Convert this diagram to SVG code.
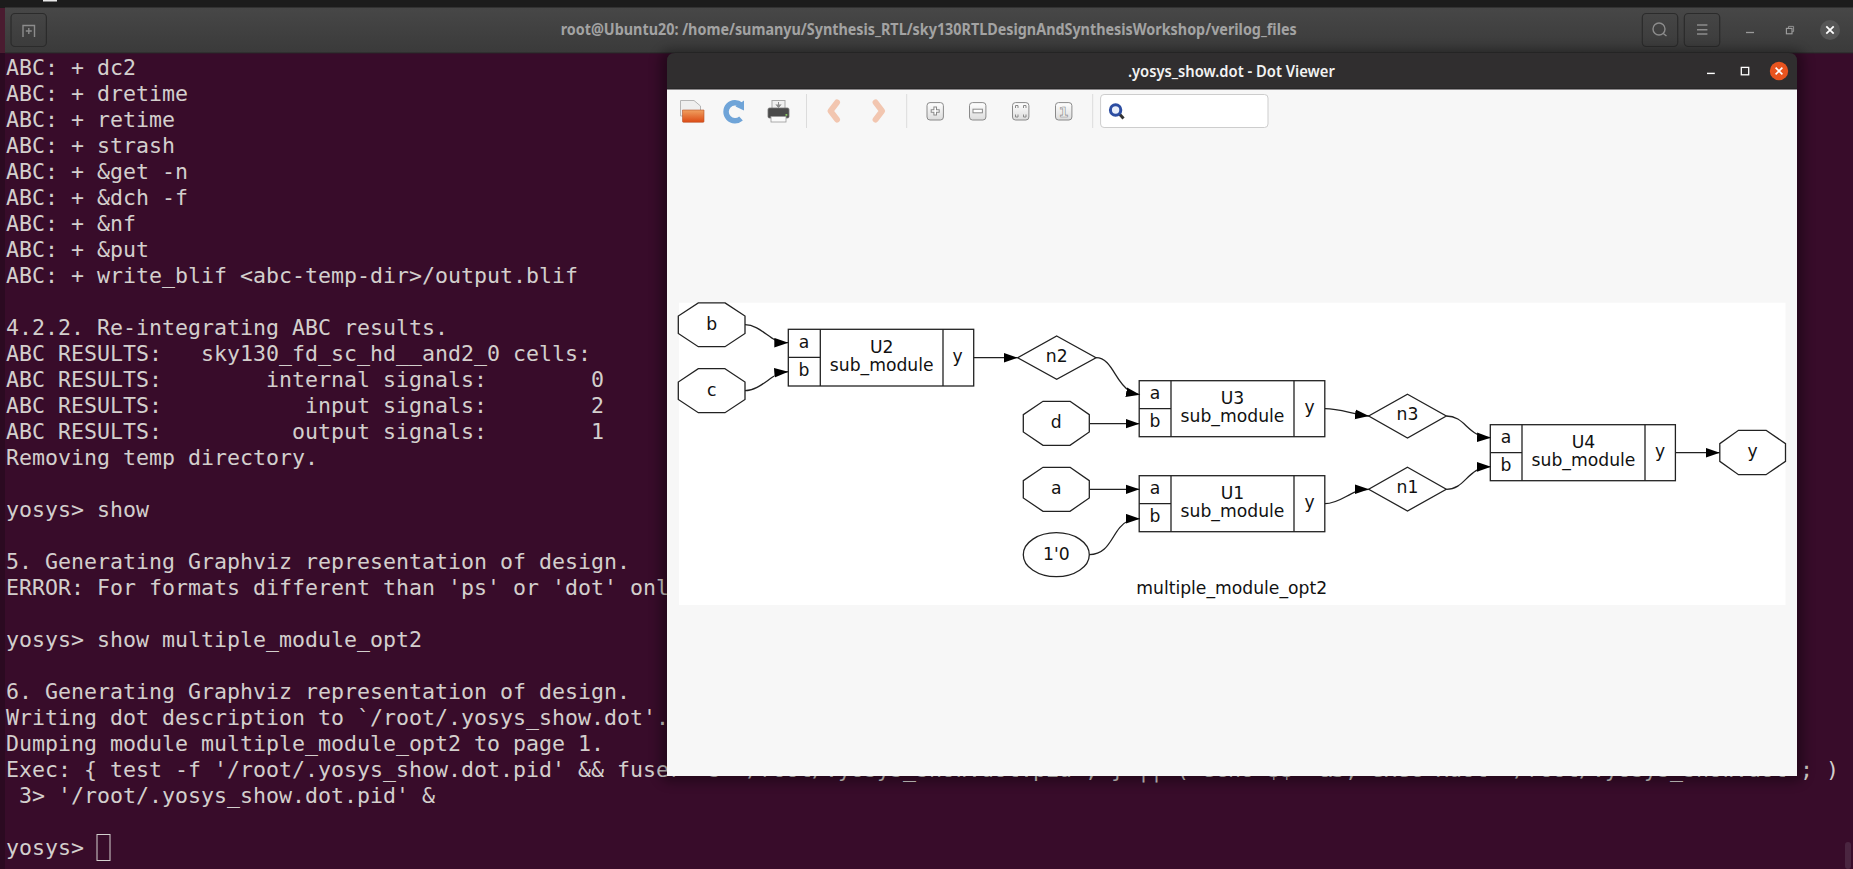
<svg xmlns="http://www.w3.org/2000/svg" width="1853" height="869" viewBox="0 0 1853 869">
<style>
.t{font-family:"DejaVu Sans Mono","Liberation Mono",monospace;font-size:21.6px;fill:#d3cfcd;white-space:pre}
.g{font-family:"DejaVu Sans","Liberation Sans",sans-serif;font-size:17.2px;fill:#111;text-anchor:middle}
.n{fill:none;stroke:#222;stroke-width:1.3}
.c{fill:none;stroke:#222;stroke-width:1.3}
.a{marker-end:url(#arrow)}
.tb{fill:none;stroke:#2b2b2b;stroke-width:1.2}
.btn{fill:url(#bg);stroke:#8a8a8a;stroke-width:1}
.sep{stroke:#dcdcdc;stroke-width:1}
.ic{fill:none;stroke:#8c8c8c;stroke-width:1.4}
</style>
<defs>
<marker id="arrow" markerUnits="userSpaceOnUse" markerWidth="15" markerHeight="11" refX="14" refY="5" orient="auto"><path d="M0,0.2L14,5L0,9.8Z" fill="#000"/></marker>
<linearGradient id="hd" x1="0" y1="0" x2="0" y2="1"><stop offset="0" stop-color="#474747"/><stop offset="1" stop-color="#3a3a3a"/></linearGradient>
<linearGradient id="bg" x1="0" y1="0" x2="0" y2="1"><stop offset="0" stop-color="#ffffff"/><stop offset="1" stop-color="#dcdcdc"/></linearGradient>
<linearGradient id="fold" x1="0" y1="0" x2="0" y2="1"><stop offset="0" stop-color="#f0a060"/><stop offset="1" stop-color="#dc4a14"/></linearGradient>
<filter id="sh" x="-5%" y="-5%" width="110%" height="110%"><feGaussianBlur stdDeviation="6"/></filter>
</defs>

<rect width="1853" height="869" fill="#380c2a"/>
<rect x="0" y="53" width="5" height="816" fill="#2b0a21"/>
<rect x="1845" y="842" width="6" height="27" rx="3" fill="#4a2540"/>

<g id="terminal-header">
<rect x="0" y="0" width="1853" height="8" fill="#1c1c1c"/>
<rect x="43" y="0" width="14" height="1.5" fill="#e8e8e8"/>
<rect x="0" y="8" width="5" height="45" fill="#4a1c30"/>
<rect x="5" y="7.5" width="1848" height="45.5" fill="url(#hd)"/>
<rect x="5" y="52.4" width="1848" height="1" fill="#2a2a2a"/>
<rect class="tb" x="11" y="13.5" width="35.4" height="33" rx="4"/>
<path class="ic" d="M23,37V25.5H34.5V37M28.8,28V34M25.8,31H31.8" stroke-width="1"/>
<text x="560.7" y="35" font-family="'Noto Sans','Open Sans',sans-serif" font-size="15.6" font-weight="700" fill="#a3a3a3" textLength="736" lengthAdjust="spacingAndGlyphs">root@Ubuntu20: /home/sumanyu/Synthesis_RTL/sky130RTLDesignAndSynthesisWorkshop/verilog_files</text>
<rect class="tb" x="1642.3" y="13.5" width="35.4" height="33" rx="4"/>
<circle class="ic" cx="1659" cy="29" r="6"/><path class="ic" d="M1663.3,33.5L1666.5,36"/>
<rect class="tb" x="1684.3" y="13.5" width="35.4" height="33" rx="4"/>
<path class="ic" d="M1697,25H1707.4M1697,29.7H1707.4M1697,34H1707.4" stroke-width="1.2"/>
<path d="M1746,32.5H1754" stroke="#9a9a9a" stroke-width="1.3"/>
<rect x="1786.4" y="28.4" width="5.6" height="5.4" fill="none" stroke="#a0a0a0" stroke-width="1.1"/>
<path d="M1788.5,28.2V26.4H1793.6V31.6H1792" fill="none" stroke="#909090" stroke-width="1"/>
<circle cx="1830" cy="30" r="10" fill="#565656"/>
<path d="M1826.3,26.3L1833.7,33.7M1833.7,26.3L1826.3,33.7" stroke="#fff" stroke-width="1.8"/>
</g>

<g id="terminal-text">
<text class="t" x="6" y="75">ABC: + dc2</text>
<text class="t" x="6" y="101">ABC: + dretime</text>
<text class="t" x="6" y="127">ABC: + retime</text>
<text class="t" x="6" y="153">ABC: + strash</text>
<text class="t" x="6" y="179">ABC: + &amp;get -n</text>
<text class="t" x="6" y="205">ABC: + &amp;dch -f</text>
<text class="t" x="6" y="231">ABC: + &amp;nf</text>
<text class="t" x="6" y="257">ABC: + &amp;put</text>
<text class="t" x="6" y="283">ABC: + write_blif &lt;abc-temp-dir&gt;/output.blif</text>
<text class="t" x="6" y="335">4.2.2. Re-integrating ABC results.</text>
<text class="t" x="6" y="361">ABC RESULTS:   sky130_fd_sc_hd__and2_0 cells:</text>
<text class="t" x="6" y="387">ABC RESULTS:        internal signals:        0</text>
<text class="t" x="6" y="413">ABC RESULTS:           input signals:        2</text>
<text class="t" x="6" y="439">ABC RESULTS:          output signals:        1</text>
<text class="t" x="6" y="465">Removing temp directory.</text>
<text class="t" x="6" y="517">yosys&gt; show</text>
<text class="t" x="6" y="569">5. Generating Graphviz representation of design.</text>
<text class="t" x="6" y="595">ERROR: For formats different than 'ps' or 'dot' onl</text>
<text class="t" x="6" y="647">yosys&gt; show multiple_module_opt2</text>
<text class="t" x="6" y="699">6. Generating Graphviz representation of design.</text>
<text class="t" x="6" y="725">Writing dot description to `/root/.yosys_show.dot'.</text>
<text class="t" x="6" y="751">Dumping module multiple_module_opt2 to page 1.</text>
<text class="t" x="6" y="777">Exec: { test -f '/root/.yosys_show.dot.pid' &amp;&amp; fuser -s '/root/.yosys_show.dot.pid'; } || ( echo $$ &gt;&amp;3; exec xdot '/root/.yosys_show.dot'; )</text>
<text class="t" x="6" y="803"> 3&gt; '/root/.yosys_show.dot.pid' &amp;</text>
<text class="t" x="6" y="855">yosys&gt;</text>
<rect x="97" y="834.5" width="13" height="26" fill="none" stroke="#d3cfcd" stroke-width="1"/>
</g>

<g id="viewer-window">
<rect x="660" y="50" width="1144" height="732" rx="10" fill="#000" opacity=".35" filter="url(#sh)"/>
<path d="M667,89.5V61Q667,53 675,53H1789Q1797,53 1797,61V89.5Z" fill="#302e2f"/>
<rect x="667" y="88.6" width="1130" height="1" fill="#1e1e1e"/>
<rect x="667" y="89.5" width="1130" height="686.5" fill="#f7f7f7"/>
<text x="1231.4" y="76.5" text-anchor="middle" font-family="'Noto Sans','Open Sans',sans-serif" font-size="15.6" font-weight="600" fill="#f2f2f2" textLength="207" lengthAdjust="spacingAndGlyphs">.yosys_show.dot - Dot Viewer</text>
<path d="M1707,73.4H1714.8" stroke="#fff" stroke-width="1.4"/>
<rect x="1741.3" y="67.4" width="7.4" height="7.4" fill="none" stroke="#fff" stroke-width="1.3"/>
<circle cx="1779" cy="71" r="9.2" fill="#e9541f"/>
<path d="M1775.6,67.6L1782.4,74.4M1782.4,67.6L1775.6,74.4" stroke="#fff" stroke-width="1.6"/>

<g id="toolbar">
<path d="M680.5,100.5H694L700.5,106V116H680.5Z" fill="#efefef" stroke="#b5b5b5"/>
<path d="M682.5,110H704V121.5Q704,122.3 703,122.3H683.5Q682.5,122.3 682.5,121.5Z" fill="url(#fold)" stroke="#b8542a" stroke-width=".6"/>
<path d="M741,105A9,9 0 1 0 741,118.5" fill="none" stroke="#6fa4d8" stroke-width="5.5"/>
<path d="M735.5,106.5L744,100.5V110.5Z" fill="#6fa4d8"/>
<rect x="772" y="100.5" width="13" height="9" fill="#f0f0f0" stroke="#a8a8a8"/>
<path d="M778.5,102V106M776,104.5L778.5,107.5L781,104.5" fill="#8c8c8c" stroke="#8c8c8c"/>
<rect x="768" y="108" width="21" height="10" rx="1.5" fill="#4a4a4a" stroke="#777" stroke-width=".8"/>
<rect x="771" y="116.5" width="15" height="5.5" fill="#fafafa" stroke="#999" stroke-width=".8"/>
<rect x="785.5" y="114" width="1.8" height="1.8" fill="#8bd060"/>
<path class="sep" d="M806.5,94V128M906.7,94V128M1092.7,94V128"/>
<path d="M837,102.5L830.5,111L837,119.5" fill="none" stroke="#f2c6b0" stroke-width="6" stroke-linejoin="round" stroke-linecap="round"/>
<path d="M875.6,102.5L882.1,111L875.6,119.5" fill="none" stroke="#f2c6b0" stroke-width="6" stroke-linejoin="round" stroke-linecap="round"/>
<rect class="btn" x="927" y="102.6" width="16.4" height="17.4" rx="3"/>
<path d="M935.2,106.5V115.5M930.7,111H939.7" stroke="#8a8a8a" stroke-width="3.6"/><path d="M935.2,107.5V114.5M931.7,111H938.7" stroke="#fff" stroke-width="1.6"/>
<rect class="btn" x="969.5" y="102.6" width="16.4" height="17.4" rx="3"/>
<rect x="973" y="109.2" width="9.4" height="3.6" fill="#fff" stroke="#8a8a8a"/>
<rect class="btn" x="1012.5" y="102.6" width="16.4" height="17.4" rx="3"/>
<path d="M1018,108V105.5H1015.5V108M1023.5,108V105.5H1026V108M1018,114.5V117H1015.5V114.5M1023.5,114.5V117H1026V114.5" fill="none" stroke="#8a8a8a"/>
<rect class="btn" x="1055.5" y="102.6" width="16.4" height="17.4" rx="3"/>
<text x="1063.7" y="116.8" text-anchor="middle" font-family="'DejaVu Sans',sans-serif" font-size="14" font-weight="700" fill="#f4f4f4" stroke="#8a8a8a" stroke-width=".6">1</text>
<rect x="1100.6" y="94.5" width="167.4" height="33" rx="3.5" fill="#fff" stroke="#cdcdcd"/>
<path d="M1119.5,114L1123.5,118.5" stroke="#333" stroke-width="3"/>
<circle cx="1115.6" cy="110" r="5.2" fill="#e8eefa" stroke="#2c4da2" stroke-width="3"/>
</g>

<rect x="679" y="302.7" width="1106.5" height="302.3" fill="#fff"/>

<g id="connectors">
<path class="c a" d="M745,324.7C757,324.7 766,335 775,340C779,342 784,342.7 788.3,342.7"/>
<path class="c a" d="M745,390.7C757,390.7 767,380 776,375C780,373 784,372 788.3,371.7"/>
<path class="c a" d="M973.7,357.7H1017.7"/>
<path class="c a" d="M1096,357.7C1112,357.7 1115,382 1129,390.5C1132,392.5 1136,394 1140,394.7"/>
<path class="c a" d="M1090,423.7H1139.5"/>
<path class="c a" d="M1090,489.3H1139.5"/>
<path class="c a" d="M1089.3,554.7C1112,554.7 1112,528 1128,521C1132,519.5 1136,518.7 1140,518.7"/>
<path class="c a" d="M1325,408.7C1340,408.7 1352,414 1369,416"/>
<path class="c a" d="M1325,503.7C1342,503.7 1350,489.3 1369,489.3"/>
<path class="c a" d="M1446.3,416C1466,416 1467,437 1491,437.7"/>
<path class="c a" d="M1446.3,489.3C1466,489.3 1467,467 1491,466.7"/>
<path class="c a" d="M1675.4,452.7H1719.8"/>
</g>

<g id="node-b"><polygon class="n" points="725,302.9 745,316 745,333.5 725,346.7 698.3,346.7 678.3,333.5 678.3,316 698.3,302.9"/><text class="g" x="711.7" y="329.5">b</text></g>
<g id="node-c"><polygon class="n" points="725,368.7 745,382 745,399.5 725,412.7 698.3,412.7 678.3,399.5 678.3,382 698.3,368.7"/><text class="g" x="711.7" y="395.5">c</text></g>
<g id="node-d"><polygon class="n" points="1070,401.3 1089.3,414.6 1089.3,432 1070,445.3 1043,445.3 1023.3,432 1023.3,414.6 1043,401.3"/><text class="g" x="1056.3" y="428">d</text></g>
<g id="node-a"><polygon class="n" points="1070,467.3 1089.3,480.6 1089.3,498 1070,511.3 1043,511.3 1023.3,498 1023.3,480.6 1043,467.3"/><text class="g" x="1056.3" y="494">a</text></g>
<g id="node-const"><ellipse class="n" cx="1056.3" cy="554.7" rx="33" ry="22"/><text class="g" x="1056.3" y="559.5">1'0</text></g>

<g id="node-U2"><rect class="n" x="788.3" y="329.3" width="185.4" height="56.7"/><path class="n" d="M788.3,357.3H820.3M820.3,329.3V386M943,329.3V386"/><text class="g" x="804" y="347.8">a</text><text class="g" x="804" y="375.5">b</text><text class="g" x="881.7" y="352.6">U2</text><text class="g" x="881.7" y="370.6">sub_module</text><text class="g" x="957.7" y="362">y</text></g>
<g id="node-n2"><polygon class="n" points="1056.7,336 1096,357.7 1056.7,379.3 1017.7,357.7"/><text class="g" x="1056.7" y="361.5">n2</text></g>

<g id="node-U3"><rect class="n" x="1139.2" y="380.7" width="185.6" height="56"/><path class="n" d="M1139.2,408.7H1171M1171,380.7V436.7M1294,380.7V436.7"/><text class="g" x="1155" y="399.2">a</text><text class="g" x="1155" y="426.9">b</text><text class="g" x="1232.5" y="404">U3</text><text class="g" x="1232.5" y="422">sub_module</text><text class="g" x="1309.5" y="413.4">y</text></g>
<g id="node-U1"><rect class="n" x="1139.2" y="475.7" width="185.6" height="56"/><path class="n" d="M1139.2,503.7H1171M1171,475.7V531.7M1294,475.7V531.7"/><text class="g" x="1155" y="494.2">a</text><text class="g" x="1155" y="521.9">b</text><text class="g" x="1232.5" y="499">U1</text><text class="g" x="1232.5" y="517">sub_module</text><text class="g" x="1309.5" y="508.4">y</text></g>
<g id="node-n3"><polygon class="n" points="1407.5,394.3 1446.3,416 1407.5,438 1368.7,416"/><text class="g" x="1407.5" y="420">n3</text></g>
<g id="node-n1"><polygon class="n" points="1407.5,467.3 1446.3,489.3 1407.5,511 1368.7,489.3"/><text class="g" x="1407.5" y="493">n1</text></g>
<g id="node-U4"><rect class="n" x="1490.3" y="424.7" width="185.1" height="56"/><path class="n" d="M1490.3,452.7H1522M1522,424.7V480.7M1645,424.7V480.7"/><text class="g" x="1506" y="443.2">a</text><text class="g" x="1506" y="470.9">b</text><text class="g" x="1583.5" y="448">U4</text><text class="g" x="1583.5" y="466">sub_module</text><text class="g" x="1660.2" y="457.4">y</text></g>
<g id="node-y"><polygon class="n" points="1766,430.3 1785.5,443.6 1785.5,461.4 1766,474.7 1738.5,474.7 1719.8,461.4 1719.8,443.6 1738.5,430.3"/><text class="g" x="1752.5" y="457">y</text></g>
<text id="graph-label" class="g" x="1231.7" y="594">multiple_module_opt2</text>
</g>
</svg>
